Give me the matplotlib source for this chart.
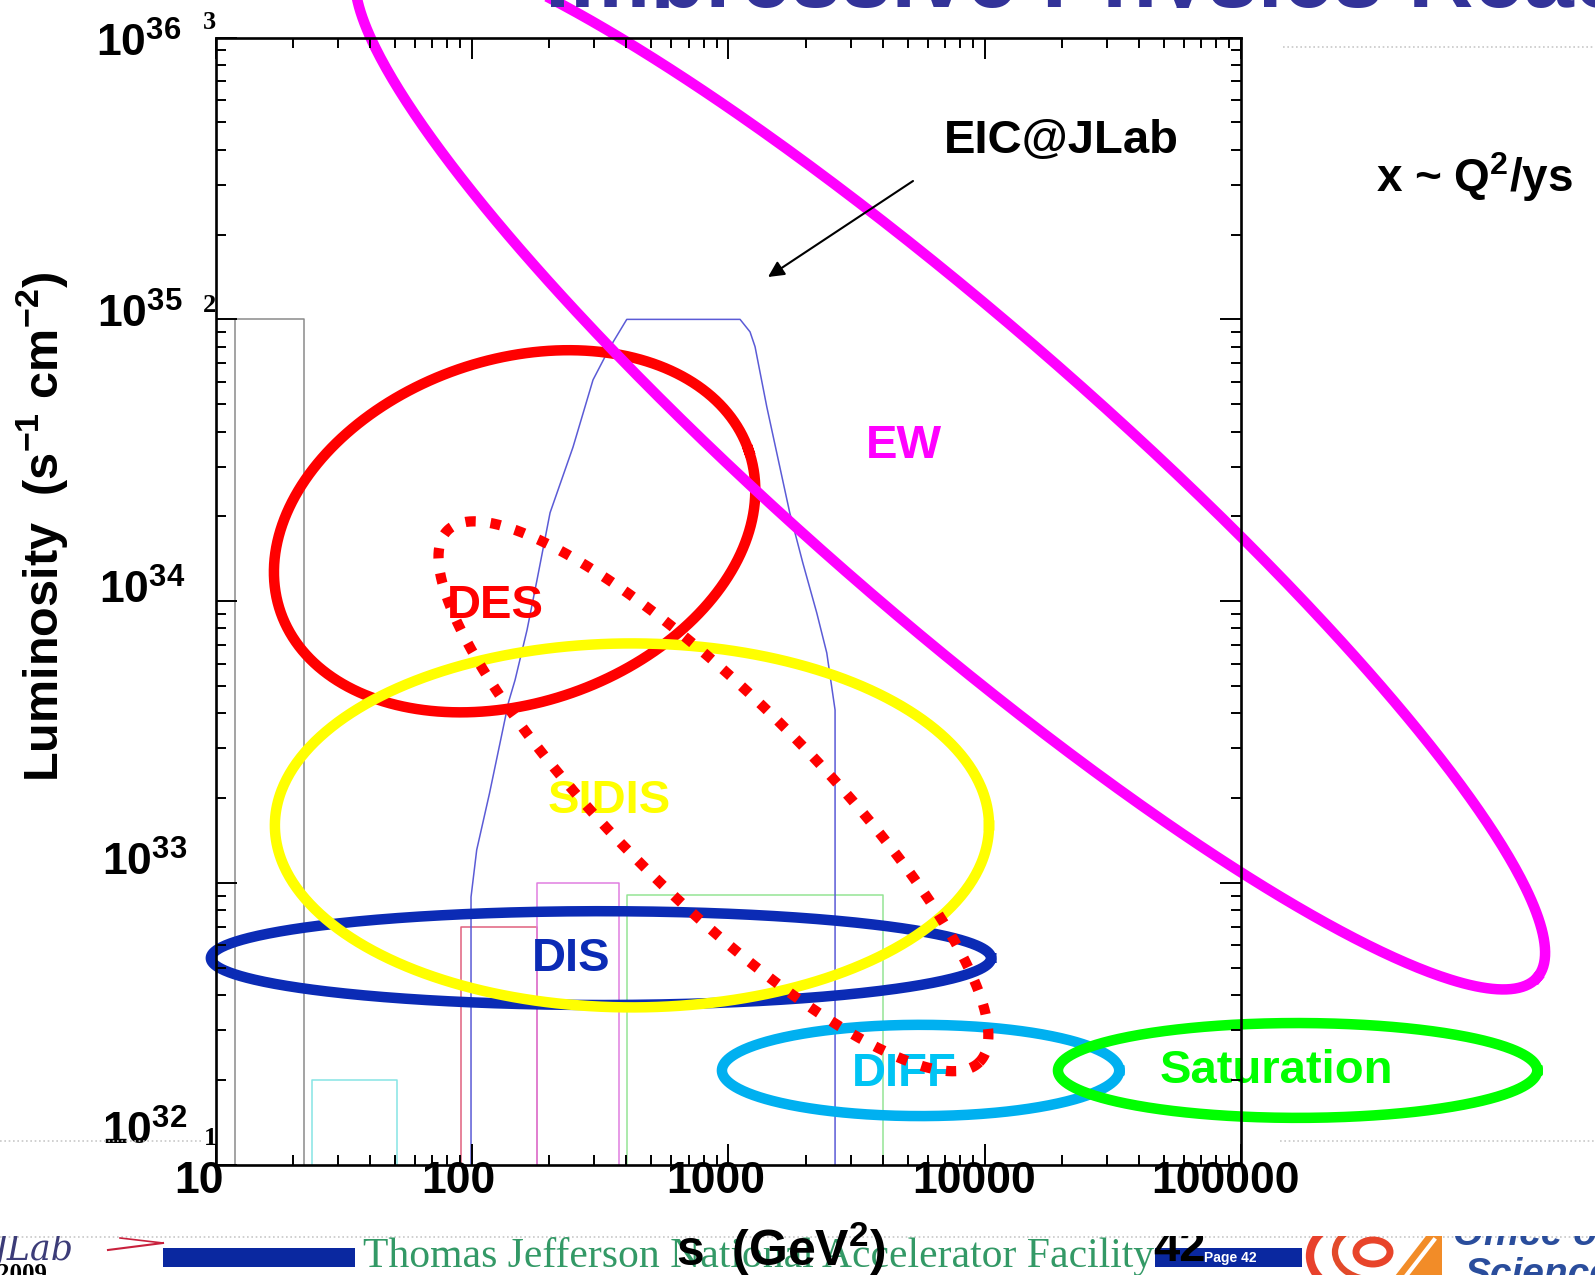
import numpy as np
import matplotlib
matplotlib.use("Agg")
import matplotlib.pyplot as plt
from matplotlib.lines import Line2D
from matplotlib.patches import Rectangle, Ellipse, Arc, Polygon
from matplotlib.ticker import LogLocator, NullFormatter
from matplotlib.transforms import Bbox

plt.rcParams["font.family"] = ["Liberation Sans", "DejaVu Sans"]
plt.rcParams["mathtext.fontset"] = "custom"
plt.rcParams["mathtext.rm"] = "Liberation Sans:bold"
plt.rcParams["mathtext.bf"] = "Liberation Sans:bold"
plt.rcParams["mathtext.it"] = "Liberation Sans:bold"
plt.rcParams["mathtext.default"] = "bf"

# ------------------------------------------------------------------ data
tick_s = [10, 100, 1000, 10000, 100000]
tick_s_labels = ["10", "100", "1000", "10000", "100000"]
tick_L_exp = [36, 35, 34, 33, 32]

# luminosity reach of facilities (thin outlines): s range and top luminosity
box_s_lo = [11.9, 23.8, 90.3, 179.3, 401.5]
box_s_hi = [22.1, 51.0, 179.3, 375.5, 4024.0]
box_L_top = [1.0e35, 2.0e32, 6.97e32, 1.0e33, 9.06e32]
box_colors = ["#8a8a8a", "#86e4e4", "#e0607e", "#e07fe0", "#94e494"]

# EIC@JLab luminosity envelope
eic_s = [99.1, 99.1, 104.3, 117.0, 138.9, 147.2, 163.9, 179.3, 201.6, 247.7,
         296.5, 345.7, 401.5, 1111, 1215, 1271, 1412, 1587, 1736, 1951,
         2213, 2421, 2608, 2608]
eic_L = [1.0e32, 8.91e32, 1.31e33, 2.08e33, 4.39e33, 5.25e33, 7.90e33, 1.19e34,
         2.06e34, 3.52e34, 6.10e34, 7.98e34, 1.0e35, 1.0e35, 9.03e34, 8.0e34,
         4.90e34, 3.0e34, 2.06e34, 1.37e34, 9.08e33, 6.55e33, 4.11e33, 1.0e32]

# physics regions: centre (s, L), half-length / half-width in decades of s, tilt
region_names = ["EW", "DES", "DIS", "SIDIS", "DIFF", "Saturation"]
region_s = [7330, 146.6, 318.5, 420.6, 5623, 166300]
region_L = [2.99e34, 1.77e34, 5.41e32, 1.60e33, 2.16e32, 2.16e32]
region_half_len = [3.035, 0.966, 1.522, 1.393, 0.775, 0.935]
region_half_wid = [0.574, 0.669, 0.183, 0.710, 0.178, 0.185]
region_tilt = [-41, 19, 0, 0, 0, 0]
region_colors = ["#ff00ff", "#ff0000", "#0b2bb5", "#ffff00", "#00b0f0", "#00ff00"]
label_colors = ["#ff00ff", "#ff0000", "#0b2bb5", "#ffff00", "#00c4f4", "#00ff00"]

# extended DES region (dotted)
des_ext_s, des_ext_L = 874.6, 2.03e33
des_ext_half_len, des_ext_half_wid, des_ext_tilt = 1.467, 0.386, -45

# ------------------------------------------------------------------ layout
W, H = 1595, 1275
fig = plt.figure(figsize=(W / 100, H / 100), dpi=100)
fig.patch.set_facecolor("white")


def fx(x, y):
    """pixel position (from top-left) -> figure fraction"""
    return (x / W, 1 - y / H)


ax_l, ax_r, ax_t, ax_b = 215.7, 1241.0, 37.6, 1164.7
ax = fig.add_axes([ax_l / W, 1 - ax_b / H, (ax_r - ax_l) / W, (ax_b - ax_t) / H])
ax.set_xscale("log")
ax.set_yscale("log")
ax.set_xlim(10, 1e5)
ax.set_ylim(1e32, 1e36)
for axis in (ax.xaxis, ax.yaxis):
    axis.set_major_locator(LogLocator(base=10, numticks=10))
    axis.set_minor_locator(LogLocator(base=10, subs=np.arange(2, 10), numticks=20))
    axis.set_major_formatter(NullFormatter())
    axis.set_minor_formatter(NullFormatter())
    axis.set_zorder(6)
ax.tick_params(which="both", direction="in", top=True, right=True,
               width=1.4, color="black")
ax.tick_params(which="major", length=15)
ax.tick_params(which="minor", length=7.5)
for sp in ax.spines.values():
    sp.set_linewidth(1.9)
    sp.set_zorder(6)

# facility outlines
for lo, hi, top, c in zip(box_s_lo, box_s_hi, box_L_top, box_colors):
    ax.plot([lo, lo, hi, hi], [1e32, top, top, 1e32], color=c, lw=1.1, zorder=1)
ax.plot(eic_s, eic_L, color="#5b5bd6", lw=1.1, zorder=1.5)


def ellipse_curve(s0, L0, half_len, half_wid, tilt_deg, n=600):
    T = ax.transData
    cx, cy = T.transform((s0, L0))
    dec = T.transform((100, L0))[0] - T.transform((10, L0))[0]
    t = np.linspace(0, 2 * np.pi, n)
    th = np.deg2rad(tilt_deg)
    a, b = half_len * dec, half_wid * dec
    x = cx + a * np.cos(t) * np.cos(th) - b * np.sin(t) * np.sin(th)
    y = cy + a * np.cos(t) * np.sin(th) + b * np.sin(t) * np.cos(th)
    pts = T.inverted().transform(np.column_stack([x, y]))
    return pts[:, 0], pts[:, 1]


region_z = [2.2, 2.0, 2.4, 2.6, 2.8, 3.0]
stroke = 10.5 * 0.72
for i in range(len(region_names)):
    xs, ys = ellipse_curve(region_s[i], region_L[i], region_half_len[i],
                           region_half_wid[i], region_tilt[i])
    ax.plot(xs, ys, color=region_colors[i], lw=stroke, clip_on=False,
            zorder=region_z[i], solid_joinstyle="round")

xs, ys = ellipse_curve(des_ext_s, des_ext_L, des_ext_half_len, des_ext_half_wid,
                       des_ext_tilt)
ax.plot(xs, ys, color="#ff0000", lw=7.4, linestyle=(0, (1, 1.45)),
        dash_capstyle="butt", clip_on=False, zorder=4)

# region labels
label_xy = {"EW": (904, 458), "DES": (495, 618), "SIDIS": (609, 813),
            "DIS": (571, 971), "DIFF": (904, 1086), "Saturation": (1276, 1083)}
for name, col in zip(region_names, label_colors):
    ax.text(*fx(*label_xy[name]), name, transform=fig.transFigure, ha="center",
            va="baseline", fontsize=34, fontweight="bold", color=col,
            clip_on=False, zorder=3.5)

ax.text(*fx(1061, 153), "EIC@JLab", transform=fig.transFigure, ha="center",
        va="baseline", fontsize=34, fontweight="bold", color="black", zorder=5)
ax.annotate("", xy=fx(768, 277), xycoords="figure fraction",
            xytext=fx(913, 181), textcoords="figure fraction",
            arrowprops=dict(arrowstyle="-|>", color="black", lw=1.5,
                            mutation_scale=24, shrinkA=0, shrinkB=0),
            zorder=5, annotation_clip=False)

# tick labels
x_lab_dx = [-16.7, -14, -12.8, -11, -15]
for s, lab, dx in zip(tick_s, tick_s_labels, x_lab_dx):
    ax.annotate(lab, xy=(s, 1e32), xycoords="data", xytext=(dx, -28),
                textcoords="offset pixels", ha="center", va="baseline",
                fontsize=32, fontweight="bold", annotation_clip=False, zorder=7)
y_lab_off = [(-119.7, -19.4), (-118.7, -8.6), (-116.7, -2.9), (-113.7, 6.9),
             (-113.7, 19.7)]
for e, (dx, dy) in zip(tick_L_exp, y_lab_off):
    ax.annotate(r"$10^{%d}$" % e, xy=(10, 10.0 ** e), xycoords="data",
                xytext=(dx, dy), textcoords="offset pixels", ha="left",
                va="baseline", fontsize=32, annotation_clip=False, zorder=7)

# small serif decade indices
for txt, (x, y) in zip(["3", "2", "1"], [(203, 29), (203, 312), (204, 1145)]):
    fig.text(*fx(x, y), txt, family="Liberation Serif", fontweight="bold",
             fontsize=19, ha="left", va="baseline")

# axis titles
fig.text(*fx(58, 527), r"Luminosity  (s$^{-1}$ cm$^{-2}$)", rotation=90,
         rotation_mode="anchor", ha="center", va="baseline", fontsize=35,
         fontweight="bold", zorder=8)
fig.text(*fx(1376, 192), r"x ~ Q$^{2}$/ys", ha="left", va="baseline",
         fontsize=33, fontweight="bold")

# slide title (mostly hidden behind the plot)
title = fig.text(*fx(545, 7), "Impressive Physics Reach", ha="left",
                 va="baseline", fontsize=65, fontweight="bold", color="#333399")
title.set_clip_box(Bbox.from_extents(0, H - 8, W, H))
title.set_clip_on(True)

# dotted guide lines of the slide
dot_kw = dict(color="#c8c8c8", lw=1.2, linestyle=(0, (1, 1.6)), zorder=0.5)
for (x0, x1, y) in [(1283, 1595, 47), (0, 203, 1141), (1280, 1595, 1141),
                    (0, 1595, 1237)]:
    fig.add_artist(Line2D([x0 / W, x1 / W], [1 - y / H, 1 - y / H],
                          transform=fig.transFigure, **dot_kw))

# footer
foot_clip = Bbox.from_extents(0, 0, W, H - 1236)


def foot(artist):
    artist.set_clip_box(foot_clip)
    artist.set_clip_on(True)
    fig.add_artist(artist)
    return artist


def rect_px(x0, y0, x1, y1, color, z=4):
    return Rectangle(fx(x0, y1), (x1 - x0) / W, (y1 - y0) / H,
                     transform=fig.transFigure, facecolor=color,
                     edgecolor="none", zorder=z)


foot(rect_px(163, 1248, 355, 1267, "#0a28a0"))
foot(rect_px(1155, 1248, 1302, 1267, "#0a28a0"))
t = fig.text(*fx(363, 1267), "Thomas Jefferson National Accelerator Facility",
             family="Liberation Serif", fontsize=30, color="#339966",
             ha="left", va="baseline", zorder=5)
t.set_clip_box(foot_clip); t.set_clip_on(True)
t = fig.text(*fx(1153, 1261), "42", fontsize=34, fontweight="bold",
             color="black", ha="left", va="baseline", zorder=6)
t.set_clip_box(foot_clip); t.set_clip_on(True)
fig.text(*fx(1230, 1258), "Page 42", fontsize=10, fontweight="bold",
         color="white", ha="center", va="center", zorder=7)

# JLab logo
t = fig.text(*fx(-6, 1260), "JLab", family="DejaVu Serif", style="italic",
             fontsize=25, color="#3c3c78", ha="left", va="baseline", zorder=5)
t.set_clip_box(foot_clip); t.set_clip_on(True)
foot(Line2D([108 / W, 163 / W], [1 - 1250 / H, 1 - 1243 / H],
            transform=fig.transFigure, color="#c8203c", lw=1.5, zorder=5))
foot(Line2D([120 / W, 163 / W], [1 - 1238 / H, 1 - 1243 / H],
            transform=fig.transFigure, color="#c8203c", lw=1.2, zorder=5))
t = fig.text(*fx(-3, 1281), "2009", family="Liberation Serif", fontsize=18,
             fontweight="bold", color="black", ha="left", va="baseline", zorder=6)

# Office of Science logo
foot(Arc(fx(1385, 1256), 150 / W, 90 / H, theta1=115, theta2=245,
         transform=fig.transFigure, color="#e8412c", lw=6, zorder=5))
foot(Arc(fx(1375, 1252), 80 / W, 56 / H, theta1=105, theta2=255,
         transform=fig.transFigure, color="#e24a2a", lw=4.5, zorder=5))
foot(Ellipse(fx(1373, 1252), 34 / W, 24 / H, transform=fig.transFigure,
             facecolor="none", edgecolor="#e8442a", lw=5, zorder=5))
foot(Polygon([fx(1395, 1276), fx(1426, 1236), fx(1442, 1236), fx(1442, 1276)],
             closed=True, transform=fig.transFigure, facecolor="#f28c28",
             edgecolor="none", zorder=5))
foot(Line2D([1406 / W, 1434 / W], [1 - 1276 / H, 1 - 1240 / H],
            transform=fig.transFigure, color="white", lw=3, zorder=5.5))
t = fig.text(*fx(1453, 1245), "Office of", fontsize=28, fontweight="bold",
             style="italic", color="#2a4d9c", ha="left", va="baseline", zorder=5)
t.set_clip_box(foot_clip); t.set_clip_on(True)
t = fig.text(*fx(1465, 1285), "Science", fontsize=28, fontweight="bold",
             style="italic", color="#2a4d9c", ha="left", va="baseline", zorder=5)
t.set_clip_box(foot_clip); t.set_clip_on(True)

# x-axis title sits on top of the footer
fig.text(*fx(676, 1266), r"s  (GeV$^{2}$)", ha="left", va="baseline",
         fontsize=36, fontweight="bold", zorder=10)

fig.savefig("out.png", dpi=100, facecolor="white")
